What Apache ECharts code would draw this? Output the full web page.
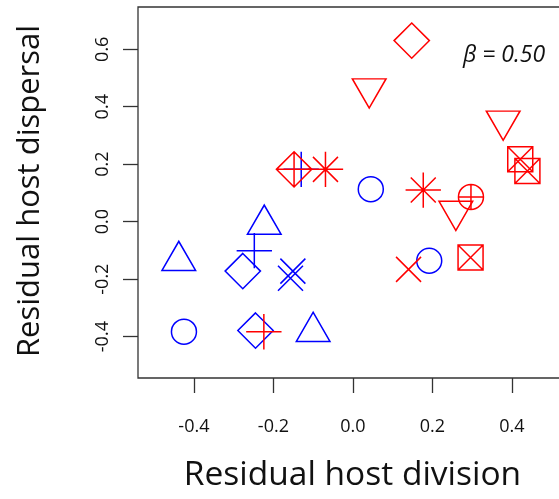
<!DOCTYPE html>
<html>
<head>
<meta charset="utf-8">
<script src="https://cdn.jsdelivr.net/npm/echarts@6/dist/echarts.min.js"></script>
<style>
  html, body { margin: 0; padding: 0; background: #fff; }
  #chart { width: 559px; height: 499px; }
</style>
</head>
<body>
<div id="chart"></div>
<script>
// Axis ranges and tick positions
const xRange = [-0.5406, 0.5386];
const yRange = [-0.544, 0.747];
const xTicks = [-0.4, -0.2, 0.0, 0.2, 0.4];
const yTicks = [-0.4, -0.2, 0.0, 0.2, 0.4, 0.6];

// Residual host division (x), residual host dispersal (y)
const blueCircle    = [[0.045, 0.113], [0.192, -0.136], [-0.425, -0.383]];
const blueTriangle  = [[-0.223, -0.010], [-0.438, -0.136], [-0.100, -0.383]];
const bluePlus      = [[-0.130, 0.182], [-0.248, -0.101]];
const blueCross     = [[-0.151, -0.172], [-0.157, -0.197]];
const blueDiamond   = [[-0.277, -0.172], [-0.245, -0.379]];

const redDiamond     = [[0.148, 0.630]];
const redTriangleDn  = [[0.041, 0.463], [0.378, 0.351], [0.259, 0.037]];
const redBoxCross    = [[0.421, 0.217], [0.439, 0.176], [0.296, -0.125]];
const redDiamondPlus = [[-0.148, 0.182]];
const redAsterisk    = [[-0.069, 0.182], [0.177, 0.110]];
const redCirclePlus  = [[0.297, 0.086]];
const redCross       = [[0.140, -0.166]];
const redPlus        = [[-0.224, -0.383]];

const BLUE = '#0000ff';
const RED = '#ff0000';

// Plotting-symbol shapes (outline only)
const R = 12.5;                     // base symbol radius, px
const D = R * Math.SQRT2;           // half-size of diamond / plus
const TRI_W = 2 * 1.3468 * R;
const TRI_H = TRI_W * 0.866;
const TRI_SHIFT = (1.5551 - 0.7776) * R / 2;  // bbox centre vs centroid

const SHAPES = {
  circle:     { symbol: 'circle', size: [2 * R, 2 * R] },
  triangle:   { symbol: 'path://M0.5,0L1,0.866L0,0.866Z', size: [TRI_W, TRI_H], offset: [0, -TRI_SHIFT] },
  triangleDn: { symbol: 'path://M0,0L1,0L0.5,0.866Z', size: [TRI_W, TRI_H], offset: [0, TRI_SHIFT] },
  plus:       { symbol: 'path://M0,1L2,1M1,0L1,2', size: [2 * D, 2 * D] },
  cross:      { symbol: 'path://M0,0L2,2M0,2L2,0', size: [2 * R, 2 * R] },
  diamond:    { symbol: 'path://M1,0L2,1L1,2L0,1Z', size: [2 * D, 2 * D] },
  diamondPlus:{ symbol: 'path://M1,0L2,1L1,2L0,1ZM0,1L2,1M1,0L1,2', size: [2 * D, 2 * D] },
  boxCross:   { symbol: 'path://M0,0L2,0L2,2L0,2ZM0,0L2,2M0,2L2,0', size: [2 * R, 2 * R] },
  asterisk:   { symbol: 'path://M0,1L2,1M1,0L1,2M0.2929,0.2929L1.7071,1.7071M0.2929,1.7071L1.7071,0.2929', size: [2 * D, 2 * D] },
  circlePlus: { symbol: 'path://M0,1A1,1 0 1,1 2,1A1,1 0 1,1 0,1ZM0,1L2,1M1,0L1,2', size: [2 * R, 2 * R] }
};

function points(data, shape, color) {
  const s = SHAPES[shape];
  return {
    type: 'scatter',
    data: data,
    symbol: s.symbol,
    symbolSize: s.size,
    symbolOffset: s.offset || [0, 0],
    symbolKeepAspect: false,
    silent: true,
    emphasis: { disabled: true },
    itemStyle: { color: 'rgba(0,0,0,0)', borderColor: color, borderWidth: 1.5, opacity: 1 }
  };
}

const FONT = '"Open Sans", "Noto Sans", sans-serif';
const fmt = v => v.toFixed(1);

const chart = echarts.init(document.getElementById('chart'), null, { renderer: 'canvas' });
chart.setOption({
  animation: false,
  backgroundColor: '#fff',
  grid: {
    left: 138, top: 7, width: 429, height: 371,
    outerBoundsMode: 'none',
    containLabel: false,
    show: true, borderColor: '#333', borderWidth: 1.3, backgroundColor: 'transparent'
  },
  xAxis: {
    type: 'value', min: xRange[0], max: xRange[1],
    axisLine: { show: false, onZero: false },
    splitLine: { show: false },
    axisTick: { show: true, length: 15, customValues: xTicks, lineStyle: { color: '#333', width: 1.3 } },
    axisLabel: { customValues: xTicks, formatter: fmt, margin: 40, fontSize: 18, fontFamily: FONT, color: '#111' }
  },
  yAxis: {
    type: 'value', min: yRange[0], max: yRange[1],
    axisLine: { show: false, onZero: false },
    splitLine: { show: false },
    axisTick: { show: true, length: 15, customValues: yTicks, lineStyle: { color: '#333', width: 1.3 } },
    axisLabel: { customValues: yTicks, formatter: fmt, rotate: 90, margin: 26, fontSize: 18, fontFamily: FONT, color: '#111' }
  },
  graphic: [
    { type: 'text', x: 352.5, y: 475, style: { text: 'Residual host division', font: '33.5px ' + FONT, fill: '#111', textAlign: 'center', textVerticalAlign: 'middle' } },
    { type: 'text', x: 30, y: 191, rotation: Math.PI / 2, style: { text: 'Residual host dispersal', font: '31px ' + FONT, fill: '#111', textAlign: 'center', textVerticalAlign: 'middle' } },
    { type: 'text', x: 504, y: 55, style: { text: 'β = 0.50', font: 'italic 23px ' + FONT, fill: '#111', textAlign: 'center', textVerticalAlign: 'middle' } }
  ],
  series: [
    points(blueCircle, 'circle', BLUE),
    points(blueTriangle, 'triangle', BLUE),
    points(bluePlus, 'plus', BLUE),
    points(blueCross, 'cross', BLUE),
    points(blueDiamond, 'diamond', BLUE),
    points(redDiamond, 'diamond', RED),
    points(redTriangleDn, 'triangleDn', RED),
    points(redBoxCross, 'boxCross', RED),
    points(redDiamondPlus, 'diamondPlus', RED),
    points(redAsterisk, 'asterisk', RED),
    points(redCirclePlus, 'circlePlus', RED),
    points(redCross, 'cross', RED),
    points(redPlus, 'plus', RED)
  ]
});
</script>
</body>
</html>
